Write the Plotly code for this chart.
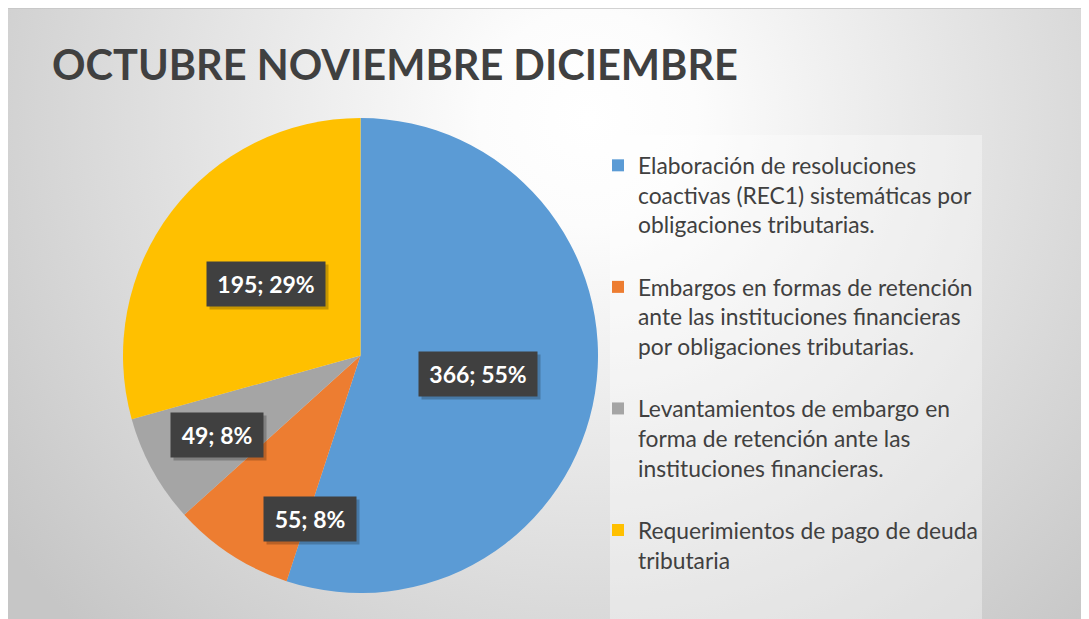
import base64
import math
import plotly.graph_objects as go

# ---------------- data ----------------
title_text = "OCTUBRE NOVIEMBRE DICIEMBRE"
categories = [
    "Elaboración de resoluciones<br>coactivas (REC1) sistemáticas por<br>obligaciones tributarias.",
    "Embargos en formas de retención<br>ante las instituciones financieras<br>por obligaciones tributarias.",
    "Levantamientos de embargo en<br>forma de retención ante las<br>instituciones financieras.",
    "Requerimientos de pago de deuda<br>tributaria",
]
values = [366, 55, 49, 195]
colors = ["#5B9BD5", "#ED7D31", "#A5A5A5", "#FFC000"]

# label placement style (fraction of radius, angle nudge in degrees)
label_rfrac = [0.50, 0.72, 0.69, 0.50]
label_dang = [0.0, -16.0, 0.0, 0.0]

W, H = 1089, 619

# ---------------- percentages (rounded to total 100, like Excel) ----------------
total = sum(values)
raw = [v * 100.0 / total for v in values]
flo = [math.floor(r) for r in raw]
rem = 100 - sum(flo)
order = sorted(range(len(raw)), key=lambda i: raw[i] - flo[i], reverse=True)
pcts = flo[:]
for i in order[:rem]:
    pcts[i] += 1

# ---------------- pie geometry (paper pixels) ----------------
cx_px, cy_px, r_px = 352.5, 347.5, 237.5
dom_x = [(cx_px - r_px) / W, (cx_px + r_px) / W]
dom_y = [1 - (cy_px + r_px) / H, 1 - (cy_px - r_px) / H]

fig = go.Figure()
fig.add_trace(go.Pie(
    labels=[c + "<br>\u00a0" for c in categories],
    values=values,
    sort=False,
    direction="clockwise",
    rotation=0,
    marker=dict(colors=colors, line=dict(width=0)),
    textinfo="none",
    hoverinfo="label+value+percent",
    domain=dict(x=dom_x, y=dom_y),
    showlegend=True,
))

# ---------------- background gradient ----------------
svg = f"""<svg xmlns='http://www.w3.org/2000/svg' width='{W}' height='{H}'>
<defs><radialGradient id='g' gradientUnits='userSpaceOnUse' cx='580' cy='110' r='720'>
<stop offset='0' stop-color='#ffffff'/>
<stop offset='0.15' stop-color='#fcfcfc'/>
<stop offset='1' stop-color='#c6c6c6'/>
</radialGradient></defs>
<rect x='0' y='0' width='{W}' height='{H}' fill='url(#g)'/>
</svg>"""
src = "data:image/svg+xml;base64," + base64.b64encode(svg.encode()).decode()

images = [dict(source=src, xref="paper", yref="paper", x=0, y=1,
               sizex=1, sizey=1, xanchor="left", yanchor="top",
               sizing="stretch", layer="below")]

shapes = [
    dict(type="line", xref="paper", yref="paper", x0=0, x1=1, y0=1, y1=1,
         line=dict(color="#C4C4C4", width=1.5), layer="below"),
    # legend panel
    dict(type="rect", xref="paper", yref="paper", x0=602 / W, x1=974 / W, y0=0, y1=1 - 127 / H,
         fillcolor="rgba(255,255,255,0.35)", line=dict(width=0), layer="below"),
]

# ---------------- data labels ----------------
annotations = []
cum = 0
for i, v in enumerate(values):
    mid = (cum + v / 2.0) / total * 360.0 + label_dang[i]
    cum += v
    a = math.radians(mid)
    px = cx_px + label_rfrac[i] * r_px * math.sin(a)
    py = cy_px - label_rfrac[i] * r_px * math.cos(a)
    txt = f"{v}; {pcts[i]}%"
    w = 13 * len(txt) + 12
    # shadow box
    annotations.append(dict(
        x=px / W, y=1 - py / H, xref="paper", yref="paper", text="\u00a0", showarrow=False,
        xanchor="center", yanchor="middle",
        xshift=3, yshift=-3, width=w, height=42,
        bgcolor="rgba(0,0,0,0.22)", font=dict(family="Lato", size=23, color="rgba(0,0,0,0)"),
    ))
    annotations.append(dict(
        x=px / W, y=1 - py / H, xref="paper", yref="paper", text=txt, showarrow=False,
        xanchor="center", yanchor="middle",
        width=w, height=42,
        bgcolor="#404040", font=dict(family="Lato", size=23, color="#FFFFFF", weight=700),
    ))

fig.update_layout(
    width=W, height=H, autosize=False,
    margin=dict(l=0, r=0, t=0, b=0),
    paper_bgcolor="#FFFFFF",
    plot_bgcolor="rgba(0,0,0,0)",
    title=dict(text=title_text, x=44 / W, xanchor="left", xref="paper",
               y=1 - 57 / H, yanchor="middle", yref="paper",
               font=dict(family="Lato", size=41.5, color="#404040", weight=700)),
    legend=dict(
        x=590 / W, xanchor="left", y=1 - 136 / H, yanchor="top",
        bgcolor="rgba(0,0,0,0)", valign="top",
        font=dict(family="Lato", size=22.8, color="#404040"),
        traceorder="normal",
    ),
    images=images,
    shapes=shapes,
    annotations=annotations,
)

fig.write_html("out.html")
